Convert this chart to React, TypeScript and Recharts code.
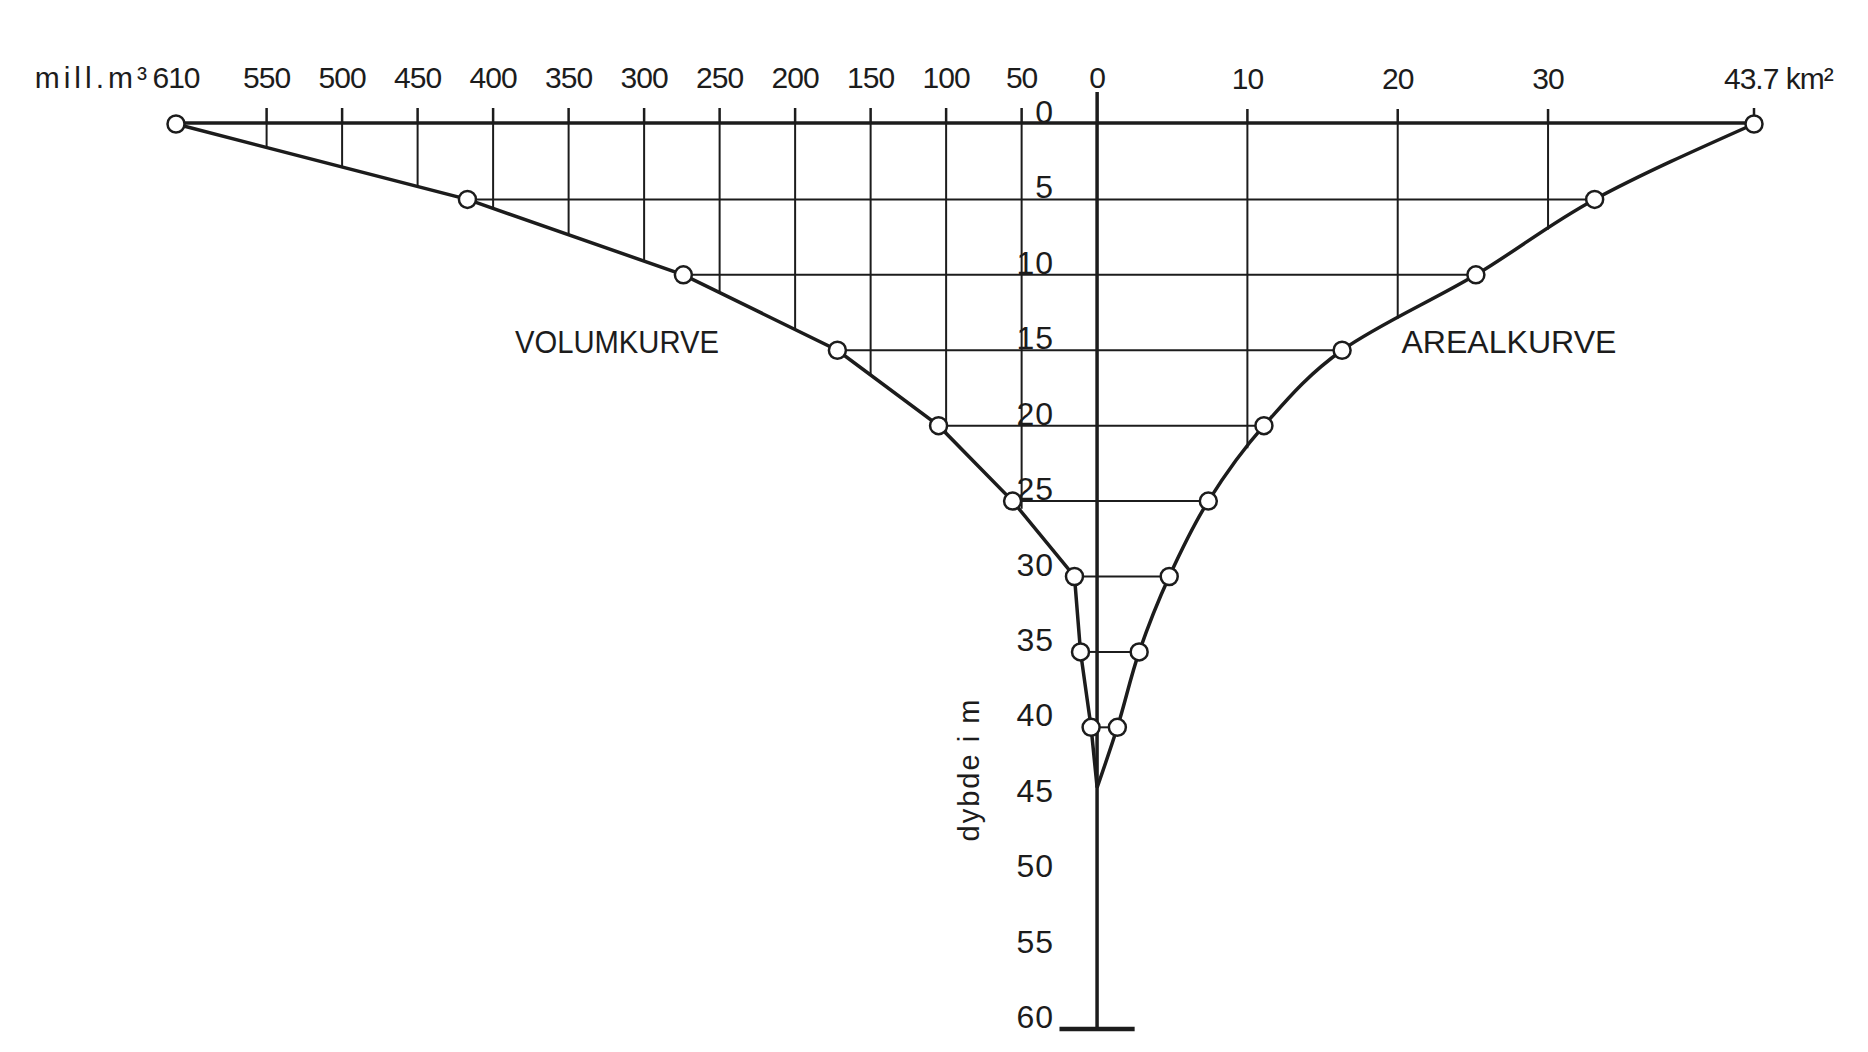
import React from 'react';
import { ComposedChart, Line, XAxis, YAxis, ReferenceLine, ReferenceDot } from 'recharts';

// depth (m) at which each curve point was read
const depthM = [0, 5, 10, 15, 20, 25, 30, 35, 40, 44];
// volume curve (mill. m3)
const volumeMillM3 = [610, 417, 274, 172, 105, 56, 15, 11, 4, 0];
// area curve (km2)
const areaKm2 = [43.7, 33.1, 25.2, 16.3, 11.1, 7.4, 4.8, 2.8, 1.35, 0];

const volumeTicks = [610, 550, 500, 450, 400, 350, 300, 250, 200, 150, 100, 50, 0];
const areaTicks = [10, 20, 30, 43.7];
const depthTicks = [0, 5, 10, 15, 20, 25, 30, 35, 40, 45, 50, 55, 60];

// vertical grid lines: scale value and the depth where each meets its curve
const volumeGridValues = [550, 500, 450, 400, 350, 300, 250, 200, 150, 100, 50];
const volumeGridEndDepth = [1.5, 2.8, 4.1, 5.6, 7.3, 9.1, 11.2, 13.6, 16.6, 20.5, 25.5];
const areaGridValues = [10, 20, 30];
const areaGridEndDepth = [21.5, 12.9, 7.0];

const volumeData = depthM.map((d, i) => ({ depth: d, volume: volumeMillM3[i] }));
const areaData = depthM.map((d, i) => ({ depth: d, area: areaKm2[i] }));

const INK = '#1c1c1c';
const FONT = '"Liberation Sans", Arial, sans-serif';
const TICK_MARGIN = 18;
const TICK_SIZE = 15;

const VolTick = (props: any) => {
  const { x, y, payload } = props;
  const v = payload.value;
  const base = y + TICK_MARGIN + TICK_SIZE;
  return (
    <g>
      {v !== 610 && (
        <line
          x1={x}
          x2={x}
          y1={base}
          y2={v === 0 ? y + 2 : y + TICK_MARGIN}
          stroke={INK}
          strokeWidth={v === 0 ? 3.5 : 2.5}
        />
      )}
      <text x={x} y={y - 2} textAnchor="middle" fontFamily={FONT} fontSize={30} letterSpacing={-1} fill={INK}>
        {v}
      </text>
      {v === 610 && (
        <text x={x - 25} y={y - 2} textAnchor="end" fontFamily={FONT} fontSize={30} letterSpacing={4} fill={INK}>
          mill.m³
        </text>
      )}
    </g>
  );
};

const AreaTick = (props: any) => {
  const { x, y, payload } = props;
  const v = payload.value;
  const base = y + TICK_MARGIN + TICK_SIZE;
  if (v === 43.7) {
    return (
      <g>
        <line x1={x} x2={x} y1={base - 9} y2={base - 16} stroke={INK} strokeWidth={2.5} />
        <text x={x - 30} y={y - 2} textAnchor="start" fontFamily={FONT} fontSize={30} letterSpacing={-1} fill={INK}>
          43.7 km²
        </text>
      </g>
    );
  }
  return (
    <g>
      <line x1={x} x2={x} y1={base} y2={y + TICK_MARGIN} stroke={INK} strokeWidth={2.5} />
      <text x={x} y={y - 2} textAnchor="middle" fontFamily={FONT} fontSize={30} letterSpacing={-1} fill={INK}>
        {v}
      </text>
    </g>
  );
};

const makeDot = (len: number) => (props: any) => {
  const { cx, cy, index } = props;
  if (index === len - 1) return <g key={`d${index}`} />;
  return <circle key={`d${index}`} cx={cx} cy={cy} r={8.5} fill="#fff" stroke={INK} strokeWidth={2.5} />;
};

export default function App() {
  return (
    <div style={{ width: 1852, height: 1036, background: '#fff' }}>
      <ComposedChart
        width={1852}
        height={1036}
        layout="vertical"
        margin={{ top: 114, right: 106, bottom: 15, left: 168 }}
      >
        <XAxis
          xAxisId="vol"
          type="number"
          orientation="top"
          reversed
          domain={[-435, 610]}
          ticks={volumeTicks}
          interval={0}
          height={1}
          tickSize={TICK_SIZE}
          tickMargin={TICK_MARGIN}
          axisLine={{ stroke: INK, strokeWidth: 3.5 }}
          tickLine={false}
          tick={VolTick}
        />
        <XAxis
          xAxisId="area"
          type="number"
          orientation="top"
          domain={[-61.27, 43.7]}
          ticks={areaTicks}
          interval={0}
          height={1}
          tickSize={TICK_SIZE}
          tickMargin={TICK_MARGIN}
          axisLine={false}
          tickLine={false}
          tick={AreaTick}
        />
        <YAxis yAxisId="d" type="number" dataKey="depth" domain={[0, 60]} hide />

        {volumeGridValues.map((v, i) => (
          <ReferenceLine
            key={`vg${v}`}
            xAxisId="vol"
            yAxisId="d"
            segment={[{ x: v, y: 0 }, { x: v, y: volumeGridEndDepth[i] }]}
            stroke={INK}
            strokeWidth={2}
          />
        ))}
        {areaGridValues.map((v, i) => (
          <ReferenceLine
            key={`ag${v}`}
            xAxisId="area"
            yAxisId="d"
            segment={[{ x: v, y: 0 }, { x: v, y: areaGridEndDepth[i] }]}
            stroke={INK}
            strokeWidth={2}
          />
        ))}
        {depthM.slice(1, 9).map((d, k) => (
          <ReferenceLine
            key={`hv${d}`}
            xAxisId="vol"
            yAxisId="d"
            segment={[{ x: volumeMillM3[k + 1], y: d }, { x: 0, y: d }]}
            stroke={INK}
            strokeWidth={2}
          />
        ))}
        {depthM.slice(1, 9).map((d, k) => (
          <ReferenceLine
            key={`ha${d}`}
            xAxisId="area"
            yAxisId="d"
            segment={[{ x: 0, y: d }, { x: areaKm2[k + 1], y: d }]}
            stroke={INK}
            strokeWidth={2}
          />
        ))}
        <ReferenceLine xAxisId="area" yAxisId="d" x={0} stroke={INK} strokeWidth={3.5} />
        <ReferenceLine
          xAxisId="area"
          yAxisId="d"
          segment={[{ x: -2.5, y: 60 }, { x: 2.5, y: 60 }]}
          stroke={INK}
          strokeWidth={4.5}
        />

        {depthTicks.map((d) => (
          <ReferenceDot
            key={`dl${d}`}
            xAxisId="area"
            yAxisId="d"
            x={0}
            y={d}
            r={0}
            shape={(p: any) => (
              <text x={p.cx - 43} y={p.cy - 1} textAnchor="end" fontFamily={FONT} fontSize={32} letterSpacing={1} fill={INK}>
                {d}
              </text>
            )}
          />
        ))}

        <ReferenceDot
          xAxisId="vol"
          yAxisId="d"
          x={318}
          y={14.4}
          r={0}
          shape={(p: any) => (
            <text x={p.cx} y={p.cy + 11.5} textAnchor="middle" fontFamily={FONT} fontSize={32} textLength={204} lengthAdjust="spacingAndGlyphs" fill={INK}>
              VOLUMKURVE
            </text>
          )}
        />
        <ReferenceDot
          xAxisId="area"
          yAxisId="d"
          x={27.4}
          y={14.4}
          r={0}
          shape={(p: any) => (
            <text x={p.cx} y={p.cy + 11.5} textAnchor="middle" fontFamily={FONT} fontSize={32} textLength={215} lengthAdjust="spacingAndGlyphs" fill={INK}>
              AREALKURVE
            </text>
          )}
        />
        <ReferenceDot
          xAxisId="area"
          yAxisId="d"
          x={-8.5}
          y={42.8}
          r={0}
          shape={(p: any) => (
            <text
              x={p.cx}
              y={p.cy}
              transform={`rotate(-90 ${p.cx} ${p.cy})`}
              textAnchor="middle"
              dominantBaseline="central"
              fontFamily={FONT}
              fontSize={29}
              letterSpacing={2}
              fill={INK}
            >
              dybde i m
            </text>
          )}
        />

        <Line
          data={volumeData}
          xAxisId="vol"
          yAxisId="d"
          dataKey="volume"
          type="linear"
          stroke={INK}
          strokeWidth={3.5}
          dot={makeDot(volumeData.length)}
          activeDot={false}
          isAnimationActive={false}
        />
        <Line
          data={areaData}
          xAxisId="area"
          yAxisId="d"
          dataKey="area"
          type="monotone"
          stroke={INK}
          strokeWidth={3.5}
          dot={makeDot(areaData.length)}
          activeDot={false}
          isAnimationActive={false}
        />
      </ComposedChart>
    </div>
  );
}
